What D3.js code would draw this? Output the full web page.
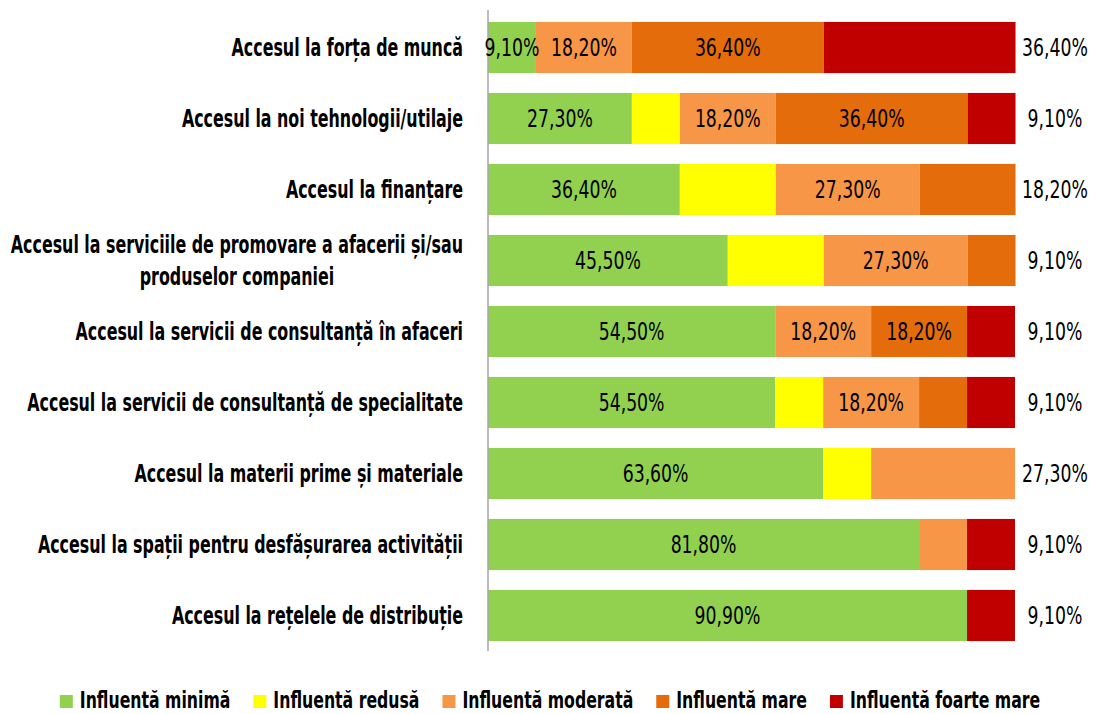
<!DOCTYPE html>
<meta charset="utf-8">
<style>
  body { margin: 0; background: #fff; }
  text { font-family: "DejaVu Sans Condensed", "DejaVu Sans", sans-serif; }
</style>
<body>
  <script src="https://d3js.org/d3.v7.min.js"></script>
  <script>

   // categories, top to bottom
   const categories = [
     "Accesul la forța de muncă",
     "Accesul la noi tehnologii/utilaje",
     "Accesul la finanțare",
     "Accesul la serviciile de promovare a afacerii și/sau\nproduselor companiei",
     "Accesul la servicii de consultanță în afaceri",
     "Accesul la servicii de consultanță de specialitate",
     "Accesul la materii prime și materiale",
     "Accesul la spații pentru desfășurarea activității",
     "Accesul la rețelele de distribuție"
   ];

   const seriesNames = ["Influentă minimă", "Influentă redusă", "Influentă moderată", "Influentă mare", "Influentă foarte mare"];
   const colors = ["#92d050", "#ffff00", "#f79646", "#e46c0a", "#c00000"];

   // values (%) per series, one per category
   const minima      = [9.1, 27.3, 36.4, 45.5, 54.5, 54.5, 63.6, 81.8, 90.9];
   const redusa      = [0, 9.1, 18.2, 18.2, 0, 9.1, 9.1, 0, 0];
   const moderata    = [18.2, 18.2, 27.3, 27.3, 18.2, 18.2, 27.3, 9.1, 0];
   const mare        = [36.4, 36.4, 18.2, 9.1, 18.2, 9.1, 0, 0, 0];
   const foarteMare  = [36.4, 9.1, 0, 0, 9.1, 9.1, 0, 9.1, 9.1];

   const seriesValues = [minima, redusa, moderata, mare, foarteMare];

   const width = 1099, height = 714;
   const plotLeft = 488, plotRight = 1015;

   // the original uses a narrow font; squeeze the installed condensed font horizontally
   const catScale = 0.735, valScale = 0.8, legScale = 0.76;

   const svg = d3.select("body").append("svg")
       .attr("width", width)
       .attr("height", height);

   const rows = categories.map((c, i) => {
     const r = {cat: c};
     seriesNames.forEach((s, k) => r[s] = seriesValues[k][i]);
     return r;
   });

   const layers = d3.stack().keys(seriesNames)(rows);

   const x = d3.scaleLinear().domain([0, 100]).range([plotLeft, plotRight]);
   const y = d3.scaleBand()
       .domain(categories)
       .range([12, 651])
       .paddingInner(0.28)
       .paddingOuter(0.14);

   const squeeze = (sel, px, py, s) =>
     sel.attr("transform", "translate(" + px + "," + py + ") scale(" + s + ",1)");

   // bars
   svg.append("g").selectAll("g")
      .data(layers)
      .join("g")
      .attr("fill", (d, i) => colors[i])
      .selectAll("rect")
      .data(d => d)
      .join("rect")
      .attr("x", d => x(d[0]))
      .attr("y", d => y(d.data.cat))
      .attr("width", d => x(d[1]) - x(d[0]))
      .attr("height", y.bandwidth());

   // axis line
   svg.append("line")
      .attr("x1", plotLeft).attr("x2", plotLeft)
      .attr("y1", 10).attr("y2", 651)
      .attr("stroke", "#a6a6a6")
      .attr("stroke-width", 1.5);

   const fmt = v => d3.format(".2f")(v).replace(".", ",") + "%";

   // value labels
   const labels = svg.append("g")
       .style("font-size", "24px")
       .attr("fill", "#000");

   categories.forEach((c, i) => {
     const cy = y(c) + y.bandwidth() / 2;
     let last = -1;
     seriesValues.forEach((s, k) => { if (s[i] > 0) last = k; });
     seriesValues.forEach((s, k) => {
       const v = s[i];
       if (v <= 0) return;
       const layer = layers[k][i];
       let lx = null;
       if (k === last) lx = 1055;
       else if (k === 0 || (k !== 1 && v >= 18)) lx = (x(layer[0]) + x(layer[1])) / 2;
       if (lx === null) return;
       labels.append("text")
         .attr("dy", "0.36em")
         .attr("text-anchor", "middle")
         .call(squeeze, lx, cy, valScale)
         .text(fmt(v));
     });
   });

   // category labels
   const catG = svg.append("g")
       .style("font-size", "24px")
       .style("font-weight", "bold")
       .attr("fill", "#000");

   categories.forEach(c => {
     const lines = c.split("\n");
     const cy = y(c) + y.bandwidth() / 2;
     const top = cy - (lines.length - 1) * 16;
     const t = catG.append("text")
        .attr("dy", "0.36em")
        .attr("text-anchor", "end")
        .call(squeeze, 463, top, catScale)
        .text(lines[0]);
     const w = t.node().getComputedTextLength() * catScale;
     lines.slice(1).forEach((l, j) => {
       catG.append("text")
         .attr("dy", "0.36em")
         .attr("text-anchor", "middle")
         .call(squeeze, 463 - w / 2, top + (j + 1) * 32, catScale)
         .text(l);
     });
   });

   // legend
   const legend = svg.append("g")
       .style("font-size", "23px")
       .style("font-weight", "bold");

   const items = seriesNames.map((s, i) => {
     const g = legend.append("g");
     g.append("rect")
       .attr("width", 13).attr("height", 13)
       .attr("y", -13)
       .attr("fill", colors[i]);
     const t = g.append("text")
       .call(squeeze, 20, 0, legScale)
       .text(s);
     return {g: g, w: 20 + t.node().getComputedTextLength() * legScale};
   });
   let lx = 0;
   items.forEach(it => {
     it.g.attr("transform", "translate(" + lx + ",0)");
     lx += it.w + 23;
   });
   lx -= 23;
   legend.attr("transform", "translate(" + (550 - lx / 2) + ",708)");

  </script>
</body>
